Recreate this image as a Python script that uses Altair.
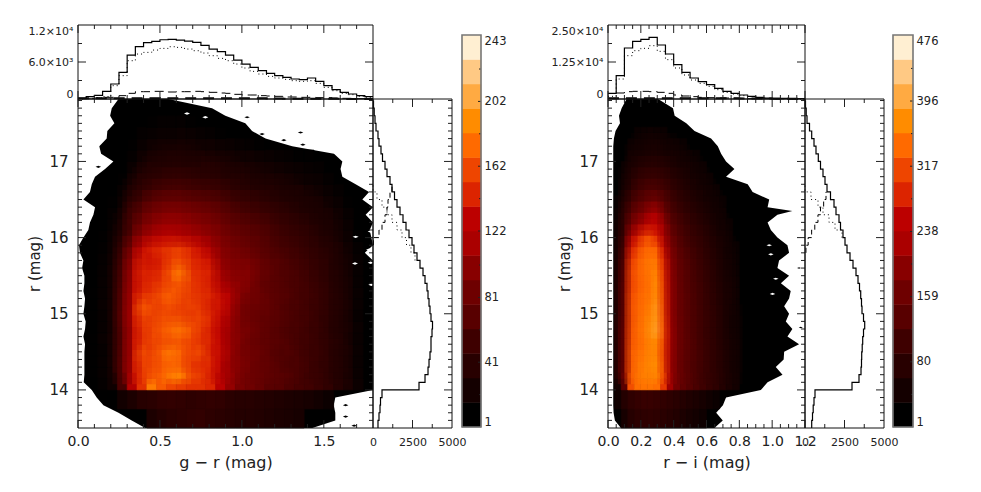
import altair as alt
import numpy as np
import pandas as pd

# bottom edges of the colour map rows (mag), last entry closes the top row
gr_rows = [13.5, 13.75, 14.0, 14.15, 14.3, 14.45, 14.6, 14.75, 14.9, 15.05, 15.2, 15.35, 15.5, 15.65,
           15.8, 15.95, 16.1, 16.25, 16.4, 16.55, 16.7, 16.85, 17.0, 17.15, 17.3, 17.45, 17.6]
gr_counts = [
    [0,0,0,0,0,0,0,30,36,40,42,44,46,42,40,38,36,36,34,32,30,28,26,0,0,0,0,0,0,0],
    [0,0,0,0,22,30,38,40,44,46,44,42,44,46,44,40,38,38,36,34,32,30,28,26,22,18,0,0,0,0],
    [5,8,12,20,60,122,150,182,168,160,155,150,150,145,128,105,90,85,78,70,68,62,58,55,50,44,36,28,18,8],
    [6,9,14,22,62,126,152,165,170,182,185,160,155,142,124,108,92,84,80,74,70,66,60,52,50,42,34,26,16,8],
    [6,9,14,24,64,128,158,158,165,172,166,152,148,148,130,105,95,88,78,76,66,60,62,54,48,44,34,25,15,8],
    [5,9,13,24,62,124,165,155,172,184,172,158,165,140,134,110,90,86,82,72,64,68,58,52,52,42,33,26,16,8],
    [6,9,15,24,60,126,148,158,160,162,165,158,148,145,130,106,96,82,76,72,70,62,56,55,48,44,35,24,15,8],
    [6,8,14,22,62,122,152,158,168,178,182,168,156,142,126,108,92,90,80,72,66,60,60,52,50,40,32,25,16,8],
    [5,9,14,24,66,130,160,155,162,160,158,152,160,148,132,112,90,82,76,74,70,64,58,56,48,42,33,24,14,7],
    [6,9,15,24,64,126,172,160,158,166,155,160,152,140,138,120,92,84,82,78,68,62,60,54,50,42,34,25,15,8],
    [6,9,14,23,62,124,148,152,165,172,162,155,150,148,134,125,98,88,84,74,70,66,58,56,50,44,33,24,15,8],
    [6,8,14,22,58,118,142,146,152,162,168,156,148,140,120,105,100,96,78,72,68,62,60,54,48,42,32,24,14,7],
    [5,8,13,22,56,116,146,142,148,168,186,152,146,144,112,100,96,98,82,76,66,64,58,52,46,40,32,22,14,7],
    [5,8,12,20,52,110,140,136,142,155,160,148,142,136,104,95,92,90,80,72,68,60,56,50,46,40,30,22,14,7],
    [4,7,11,18,46,100,132,145,150,155,158,145,135,118,100,92,86,80,72,66,60,56,52,46,42,36,28,20,12,6],
    [0,6,10,16,36,80,105,118,128,132,125,118,112,104,94,86,80,74,70,64,56,52,48,44,38,32,24,18,10,5],
    [0,5,9,14,30,64,88,100,108,110,108,104,98,94,88,78,72,68,64,60,52,48,44,40,34,30,22,16,8,0],
    [0,4,8,12,24,56,78,90,96,100,98,94,90,86,78,70,64,60,56,52,46,42,38,34,30,26,20,14,8,0],
    [0,0,6,10,18,44,64,74,82,84,84,80,76,72,68,60,54,50,48,44,40,36,32,30,26,20,16,10,0,0],
    [0,0,5,8,14,32,48,58,64,66,66,62,60,58,54,48,44,42,38,36,32,30,28,24,20,16,12,8,0,0],
    [0,0,4,7,10,22,36,44,48,50,50,48,46,44,42,38,36,32,30,28,26,24,20,18,16,12,8,0,0,0],
    [0,0,0,5,8,16,26,34,38,40,40,38,36,36,34,30,28,26,24,22,20,18,16,14,12,8,0,0,0,0],
    [0,0,0,0,6,12,20,26,30,32,32,30,28,26,24,22,20,20,18,16,14,12,10,10,8,0,0,0,0,0],
    [0,0,0,0,5,10,15,20,22,22,24,22,20,20,18,16,14,12,10,8,8,6,0,0,0,0,0,0,0,0],
    [0,0,0,0,0,8,12,14,16,16,18,16,14,12,10,8,6,0,0,0,0,0,0,0,0,0,0,0,0,0],
    [0,0,0,0,0,5,8,10,12,12,12,10,8,6,0,0,0,0,0,0,0,0,0,0,0,0,0,0,0,0],
]
ri_counts = [
    [0,18,50,72,80,82,85,82,78,72,66,58,50,44,36,26,0,0,0,0],
    [15,40,70,85,92,95,95,92,88,82,76,70,62,56,48,40,32,0,0,0],
    [25,45,140,320,345,350,350,345,300,215,170,145,130,118,105,92,82,68,55,44],
    [20,72,175,330,350,360,362,365,315,218,172,148,132,118,104,92,82,70,56,44],
    [20,70,170,325,352,358,370,372,310,215,170,146,130,118,106,94,80,68,54,42],
    [22,72,172,328,345,350,365,360,305,218,172,148,132,120,106,92,82,68,56,44],
    [22,70,168,320,340,348,368,372,312,220,172,150,132,118,104,92,80,66,54,42],
    [20,70,165,318,345,355,378,395,320,218,170,148,130,116,104,90,80,66,52,40],
    [20,68,160,315,338,352,365,380,310,215,168,148,128,116,104,92,78,66,52,40],
    [20,66,158,318,340,345,360,385,305,212,168,146,128,116,102,90,78,64,50,38],
    [18,66,160,312,335,345,352,372,300,210,166,144,128,114,102,88,76,62,50,38],
    [18,64,155,305,330,340,350,375,295,208,165,142,126,112,100,86,74,60,48,36],
    [18,62,150,310,335,345,355,362,290,205,162,140,124,110,98,84,72,58,46,34],
    [16,58,140,295,330,345,355,350,280,198,158,136,120,106,94,80,68,56,44,32],
    [15,52,125,270,310,335,340,335,262,188,150,128,112,100,88,76,64,52,40,30],
    [14,48,108,225,270,310,320,280,225,170,138,118,104,92,82,70,60,48,36,26],
    [12,42,95,170,205,235,260,255,215,150,125,108,96,84,74,64,52,42,32,22],
    [10,36,80,140,170,190,225,235,180,130,112,96,86,76,66,56,46,36,28,20],
    [8,30,65,112,135,150,170,175,140,115,98,86,76,66,58,48,40,30,22,16],
    [8,26,52,90,110,122,132,130,118,100,86,76,66,58,50,42,34,26,18,12],
    [6,22,42,72,92,100,105,102,96,84,74,66,58,50,42,34,26,20,14,0],
    [6,18,34,58,74,80,84,82,78,70,62,54,48,40,34,26,20,14,0,0],
    [0,14,26,44,56,62,64,64,60,54,48,42,36,30,24,18,12,0,0,0],
    [0,10,20,34,42,46,48,48,44,40,36,30,26,20,14,0,0,0,0,0],
    [0,8,14,24,30,34,36,34,32,28,24,20,16,0,0,0,0,0,0,0],
    [0,0,10,16,20,22,22,22,20,18,14,0,0,0,0,0,0,0,0,0],
]

# outline of the populated region, one colour range per magnitude
gr_edge_r = [13.5,13.6,13.7,13.8,13.9,14.0,14.1,14.2,14.3,14.4,14.5,14.6,14.7,14.8,14.9,15.0,15.1,15.2,15.3,15.4,15.5,15.6,
             15.7,15.8,15.9,16.0,16.1,16.2,16.3,16.4,16.5,16.6,16.7,16.8,16.9,17.0,17.1,17.2,17.3,17.4,17.5,17.6,17.7,17.82]
gr_edge_lo = [.41,.328,.247,.155,.114,.084,.035,.039,.039,.039,.039,.043,.033,.043,.047,.033,.039,.043,.033,.039,.039,.025,
              .033,.012,.006,.033,.063,.073,.094,.104,.033,.073,.084,.104,.165,.216,.141,.130,.175,.179,.222,.196,.206,.247]
gr_edge_hi = [1.43,1.57,1.57,1.56,1.57,1.8,1.8,1.8,1.8,1.8,1.8,1.8,1.8,1.8,1.8,1.8,1.8,1.8,1.8,1.8,1.8,1.8,
              1.8,1.75,1.8,1.79,1.78,1.8,1.755,1.8,1.735,1.776,1.694,1.613,1.602,1.613,1.562,1.307,1.144,1.062,1.021,.899,.818,.552]
ri_edge_r = [13.5,13.6,13.7,13.8,13.9,14.0,14.05,14.1,14.2,14.3,14.4,14.5,14.6,14.7,14.8,14.9,15.0,15.1,15.2,15.3,15.4,15.5,15.6,
             15.7,15.8,15.9,16.0,16.1,16.2,16.3,16.35,16.4,16.5,16.6,16.7,16.8,16.9,17.0,17.1,17.2,17.3,17.4,17.5,17.6,17.7,17.82]
ri_edge_lo = [.079,.042,.034,.032,.032,.032,.032,.032,.032,.032,.032,.032,.032,.032,.032,.032,.032,.032,.032,.032,.032,.032,.032,
              .032,.032,.032,.032,.032,.032,.032,.032,.032,.032,.032,.032,.032,.032,.032,.032,.032,.036,.046,.073,.067,.083,.113]
ri_edge_hi = [.648,.699,.659,.70,.719,.931,.952,.972,1.063,1.022,1.07,1.073,1.164,1.093,1.123,1.083,1.103,1.073,1.103,1.113,1.053,1.103,1.032,
              1.042,1.103,1.093,1.032,.992,.972,1.032,1.123,.972,.982,.881,.851,.719,.77,.719,.689,.669,.628,.527,.477,.406,.396,.305]

# white gaps and isolated black patches
gr_holes = [[.665,17.63],[.777,17.58],[1.776,16.3],[1.786,16.08],[1.694,16.01],[1.776,15.84],[1.786,15.67],[1.69,15.66],[1.79,15.38]]
gr_spots = [[1.032,17.58],[1.123,17.36],[1.358,17.38],[1.256,17.28],[1.372,17.22],[.124,16.93],[1.633,13.8],[1.633,13.65],[1.685,13.53]]
ri_holes = [[1.012,16.1],[.982,15.9],[.992,15.78],[1.022,15.46],[1.002,15.26]]
ri_spots = [[1.174,14.82],[1.164,15.6]]

# top histograms, 0.05 mag bins
gr_top = [108,378,594,1242,2430,4320,7128,8478,9126,9342,9612,9666,9558,9396,9180,8694,8100,7668,7128,6318,5670,5130,4590,4158,3780,3510,3240,3132,3402,2862,2160,1512,1080,810,540,378]
gr_top_dot = [0,100,200,400,2160,3780,6210,7290,7560,7938,8208,8478,8370,8100,7830,7452,7020,6588,6210,5670,5022,4482,4050,3672,3402,3186,2970,2862,2970,2538,1890,1350,918,702,432,270]
gr_top_dash = [54,108,162,270,270,540,918,1188,1188,1242,1242,1134,1188,1188,1242,1188,1080,972,918,756,648,648,540,486,432,324,324,270,270,216,216,162,108,108,54,54]
gr_top_base = [120,130,120,110,120,130,120,110,120,130,120,120,130,120,110,120,130,120,110,120,120,120,110,100,80,60,50,50,40,40,30,30,20,20,20,20]
ri_top = [1914,7882,17228,19480,20155,20831,18241,15201,11598,9008,7094,5855,4842,3603,2590,1914,1351,901,563,338,225,225,113,113]
ri_top_dot = [901,6756,14638,16327,17115,18016,16102,13287,10472,8107,6418,5292,4279,3153,2252,1689,1126,788,450,225,113,113,0,0]
ri_top_dash = [113,2027,2477,2590,2590,2477,2252,1914,1351,1013,788,563,450,338,338,225,225,113,113,113,56,56,0,0]
ri_top_base = [250,260,250,240,250,260,250,240,250,240,230,240,230,220,230,220,210,200,180,150,120,100,60,40]

# side histograms, 0.1 mag bins from r = 13.5
gr_side = [316,380,443,475,570,2912,3292,3482,3545,3608,3671,3671,3735,3766,3671,3608,3545,3482,3418,3292,3165,2975,2785,2595,2469,2279,2089,1899,1709,1519,1361,1203,1076,886,760,601,506,380,316,190,127,76,32]
gr_side_dot = [2659,2405,2121,1836,1519,1203,886,570,253,0]       # from r = 15.7
gr_side_dash = [32,380,570,760,886,950,1076,1203]                 # from r = 15.9
ri_side = [424,475,519,570,633,2975,3418,3545,3576,3589,3621,3652,3703,3779,3703,3608,3576,3526,3450,3355,3228,3038,2849,2659,2532,2405,2247,2152,1962,1836,1614,1393,1266,1139,981,842,696,570,424,285,127,76,32]
ri_side_dot = [2342,1899,1519,1139,823,380,0]                     # from r = 16.0
ri_side_dash = [60,200,420,620,820,980,1180,1330]                 # from r = 15.8

gr_major = [0, .5, 1, 1.5]
gr_minor = [.1,.2,.3,.4,.6,.7,.8,.9,1.1,1.2,1.3,1.4,1.6,1.7]
ri_major = [0, .2, .4, .6, .8, 1, 1.2]
ri_minor = [.05,.1,.15,.25,.3,.35,.45,.5,.55,.65,.7,.75,.85,.9,.95,1.05,1.1,1.15]
r_major = [14, 15, 16, 17]
r_minor = [13.6,13.7,13.8,13.9,14.1,14.2,14.3,14.4,14.5,14.6,14.7,14.8,14.9,15.1,15.2,15.3,15.4,15.5,15.6,15.7,15.8,15.9,
           16.1,16.2,16.3,16.4,16.5,16.6,16.7,16.8,16.9,17.1,17.2,17.3,17.4,17.5,17.6,17.7,17.8]
side_major = [0, 2500, 5000]
side_minor = [1250, 3750]
gr_top_major = [0, 6000, 12000]
gr_top_minor = [3000, 9000]
ri_top_major = [0, 12500, 25000]
ri_top_minor = [6250, 18750]
gr_bar_ticks = [1, 41, 81, 122, 162, 202, 243]
ri_bar_ticks = [1, 80, 159, 238, 317, 396, 476]

bar_colors = ['#000000','#140000','#280000','#3e0000','#580000','#6e0000','#880000','#aa0000',
              '#bc0000','#dc2400','#ee4500','#ff6a00','#ff8c00','#ffaa42','#ffc984','#ffefd2']

W, H = 965, 476
FONT = 'DejaVu Sans'
INK = '#222222'
R_DOM = [13.5, 17.82]
Y_MAIN = [420, 91]
Y_TOP = [91, 17]
Y_BAR = [419, 27]

L_main = dict(xd=[0, 1.8], xr=[70, 365], yd=R_DOM, yr=Y_MAIN)
L_top = dict(xd=[0, 1.8], xr=[70, 365], yd=[0, 12000], yr=Y_TOP)
L_side = dict(xd=[0, 5000], xr=[365, 444], yd=R_DOM, yr=Y_MAIN)
L_bar = dict(xd=[0, 1], xr=[454, 473], yd=[1, 243], yr=Y_BAR)
R_main = dict(xd=[0, 1.2], xr=[600, 797], yd=R_DOM, yr=Y_MAIN)
R_top = dict(xd=[0, 1.2], xr=[600, 797], yd=[0, 25000], yr=Y_TOP)
R_side = dict(xd=[0, 5000], xr=[797, 876], yd=R_DOM, yr=Y_MAIN)
R_bar = dict(xd=[0, 1], xr=[885, 905], yd=[1, 476], yr=Y_BAR)


def scale_for(p, axis):
    return alt.Scale(domain=p[axis + 'd'], range=p[axis + 'r'], nice=False, zero=False)


def X(p, field='x', axis=None):
    return alt.X(f'{field}:Q', scale=scale_for(p, 'x'), axis=axis)


def Y(p, field='y', axis=None):
    return alt.Y(f'{field}:Q', scale=scale_for(p, 'y'), axis=axis)


def stairs_top(p, values, start=0, width=.05, **mark):
    rows = []
    for k, v in enumerate(values):
        rows += [dict(x=start + k * width, y=v), dict(x=start + (k + 1) * width, y=v)]
    df = pd.DataFrame(rows).reset_index()
    return alt.Chart(df).mark_line(color='black', **mark).encode(x=X(p), y=Y(p), order='index:Q')


def stairs_side(p, values, start=13.5, width=.1, **mark):
    rows = []
    for k, v in enumerate(values):
        rows += [dict(x=v, y=start + k * width), dict(x=v, y=start + (k + 1) * width)]
    df = pd.DataFrame(rows).reset_index()
    return alt.Chart(df).mark_line(color='black', **mark).encode(x=X(p), y=Y(p), order='index:Q')


def color_channels(vmax):
    mids = list((np.linspace(1, vmax, 17)[:-1] + np.linspace(1, vmax, 17)[1:]) / 2)
    sc = alt.Scale(domain=mids, range=bar_colors, interpolate='rgb')
    return alt.Color('v:Q', scale=sc, legend=None), alt.Stroke('v:Q', scale=sc, legend=None)


def heat(p, counts, rows, col_w, vmax, floor):
    cells = []
    for i, row in enumerate(counts):
        for k, v in enumerate(row):
            if v >= floor:
                cells.append(dict(x=k * col_w, x2=(k + 1) * col_w, y=rows[i], y2=rows[i + 1], v=v))
    fill, line = color_channels(vmax)
    return alt.Chart(pd.DataFrame(cells)).mark_rect(strokeWidth=.6).encode(
        x=X(p), x2='x2:Q', y=Y(p), y2='y2:Q', color=fill, stroke=line)


def heat_soft(p, counts, rows, col_w, vmax, floor, xmin):
    # enlarged see-through copies of the inner cells to soften the block edges
    cells = []
    for i, row in enumerate(counts):
        for k, v in enumerate(row):
            if v >= floor and i >= 2:
                h = (rows[i + 1] - rows[i]) / 2
                cells.append(dict(x=max((k - .5) * col_w, xmin), x2=(k + 1.5) * col_w, y=rows[i] - h, y2=rows[i + 1] + h, v=v))
    df = pd.DataFrame(cells)
    df = df[df.y >= 14]
    fill, _ = color_channels(vmax)
    return alt.Chart(df).mark_rect(opacity=.3).encode(x=X(p), x2='x2:Q', y=Y(p), y2='y2:Q', color=fill)


def outline(p, r, lo, hi):
    df = pd.DataFrame(dict(y=r, x=lo, x2=hi))
    return alt.Chart(df).mark_area(orient='horizontal', color='black').encode(
        y=Y(p), x=X(p), x2='x2:Q')


def patches(p, pts, color, size):
    df = pd.DataFrame(pts, columns=['x', 'y'])
    return alt.Chart(df).mark_point(filled=True, opacity=1, color=color, size=size,
                                    shape='M-1,0L0,-0.4L1,0L0,0.4Z').encode(x=X(p), y=Y(p))


def x_ticks(p, major, minor, major_len=8, minor_len=4):
    # ticks along the top and bottom edge, pointing into the panel
    per_px = abs(p['yd'][1] - p['yd'][0]) / abs(p['yr'][1] - p['yr'][0])
    rows = []
    for vals, n in ((major, major_len), (minor, minor_len)):
        for v in vals:
            rows.append(dict(x=v, y=p['yd'][0], y2=p['yd'][0] + n * per_px))
            rows.append(dict(x=v, y=p['yd'][1], y2=p['yd'][1] - n * per_px))
    return alt.Chart(pd.DataFrame(rows)).mark_rule(color=INK, strokeWidth=1).encode(x=X(p), y=Y(p), y2='y2:Q')


def y_ticks(p, major, minor, major_len=8, minor_len=4, left=True):
    per_px = abs(p['xd'][1] - p['xd'][0]) / abs(p['xr'][1] - p['xr'][0])
    rows = []
    for vals, n in ((major, major_len), (minor, minor_len)):
        for v in vals:
            if left:
                rows.append(dict(y=v, x=p['xd'][0], x2=p['xd'][0] + n * per_px))
            rows.append(dict(y=v, x=p['xd'][1], x2=p['xd'][1] - n * per_px))
    return alt.Chart(pd.DataFrame(rows)).mark_rule(color=INK, strokeWidth=1).encode(y=Y(p), x=X(p), x2='x2:Q')


def frame(p, xaxis=None, yaxis=None, color='#111111', width=1):
    df = pd.DataFrame([dict(x=p['xd'][0], x2=p['xd'][1], y=p['yd'][0], y2=p['yd'][1])])
    return alt.Chart(df).mark_rect(fillOpacity=0, stroke=color, strokeWidth=width).encode(
        x=X(p, axis=xaxis), x2='x2:Q', y=Y(p, axis=yaxis), y2='y2:Q')


def axis_common(size):
    return dict(ticks=False, domain=False, grid=False, labelFont=FONT, labelFontSize=size, labelColor=INK,
                labelOverlap=False, titleFont=FONT, titleFontWeight='normal', titleColor=INK)


def bottom_axis(vals, fmt, title=None, size=14, pad=6):
    args = dict(orient='bottom', offset=Y_MAIN[0] - H, values=vals, format=fmt, labelPadding=pad, labelFlush=False,
                **axis_common(size))
    if title:
        args.update(title=title, titleFontSize=16, titlePadding=6)
    else:
        args.update(title=None)
    return alt.Axis(**args)


def r_axis(xpos):
    return alt.Axis(orient='left', offset=-xpos, values=r_major, format='d', labelPadding=10, title='r (mag)',
                    titleFontSize=15, titlePadding=6, **axis_common(15))


def top_axis(xpos, vals, expr):
    return alt.Axis(orient='left', offset=-xpos, values=vals, labelExpr=expr, labelFlush=True, labelPadding=5,
                    title=None, **axis_common(11))


def bar_panel(p, vmax, tick_vals):
    edges = np.linspace(1, vmax, 17)
    df = pd.DataFrame(dict(x=0, x2=1, y=edges[:-1], y2=edges[1:], v=(edges[:-1] + edges[1:]) / 2))
    fill, line = color_channels(vmax)
    bands = alt.Chart(df).mark_rect(strokeWidth=.5).encode(
        x=X(p), x2='x2:Q', y=Y(p), y2='y2:Q', color=fill, stroke=line)
    axis = alt.Axis(orient='right', offset=p['xr'][1] + 0 - W, values=tick_vals, format='d', labelFlush=True,
                    labelPadding=3, title=None, **axis_common(11.5))
    step = (tick_vals[1] - tick_vals[0]) / 2
    minor = [v + step for v in tick_vals[:-1]]
    return [bands, y_ticks(p, tick_vals[1:-1], minor, 3, 2, left=False),
            frame(p, yaxis=axis, color='#777777', width=1.6)]


layers = [
    outline(L_main, gr_edge_r, gr_edge_lo, gr_edge_hi),
    heat(L_main, gr_counts, gr_rows, .06, 243, 9),
    heat_soft(L_main, gr_counts, gr_rows, .06, 243, 30, .05),
    patches(L_main, gr_holes, 'white', 36),
    patches(L_main, gr_spots, 'black', 30),
    stairs_top(L_top, gr_top, strokeWidth=1.2),
    stairs_top(L_top, gr_top_dot, strokeWidth=1, strokeDash=[1, 3]),
    stairs_top(L_top, gr_top_dash, strokeWidth=1, strokeDash=[9, 5]),
    stairs_top(L_top, gr_top_base, strokeWidth=2, strokeDash=[11, 7]),
    stairs_side(L_side, gr_side, strokeWidth=1.2),
    stairs_side(L_side, gr_side_dot, start=15.7, strokeWidth=1, strokeDash=[1, 3]),
    stairs_side(L_side, gr_side_dash, start=15.9, strokeWidth=1, strokeDash=[5, 3]),
    x_ticks(L_main, gr_major, gr_minor),
    y_ticks(L_main, r_major, r_minor),
    x_ticks(L_top, gr_major, gr_minor),
    y_ticks(L_top, gr_top_major[1:-1], gr_top_minor),
    x_ticks(L_side, side_major[1:-1], side_minor),
    y_ticks(L_side, r_major, r_minor, left=False),
    frame(L_main, xaxis=bottom_axis(gr_major, '.1f', 'g \u2212 r (mag)'), yaxis=r_axis(70)),
    frame(L_top, yaxis=top_axis(70, gr_top_major,
                                "datum.value == 0 ? '0' : datum.value == 6000 ? '6.0\u00d710\u00b3' : '1.2\u00d710\u2074'")),
    frame(L_side, xaxis=bottom_axis(side_major, 'd', size=11, pad=8)),
    *bar_panel(L_bar, 243, gr_bar_ticks),

    outline(R_main, ri_edge_r, ri_edge_lo, ri_edge_hi),
    heat(R_main, ri_counts, gr_rows, .04, 476, 30),
    heat_soft(R_main, ri_counts, gr_rows, .04, 476, 40, .036),
    patches(R_main, ri_holes, 'white', 30),
    patches(R_main, ri_spots, 'black', 16),
    stairs_top(R_top, ri_top, strokeWidth=1.2),
    stairs_top(R_top, ri_top_dot, strokeWidth=1, strokeDash=[1, 3]),
    stairs_top(R_top, ri_top_dash, strokeWidth=1, strokeDash=[9, 5]),
    stairs_top(R_top, ri_top_base, strokeWidth=2, strokeDash=[11, 7]),
    stairs_side(R_side, ri_side, strokeWidth=1.2),
    stairs_side(R_side, ri_side_dot, start=16.0, strokeWidth=1, strokeDash=[1, 3]),
    stairs_side(R_side, ri_side_dash, start=15.8, strokeWidth=1, strokeDash=[5, 3]),
    x_ticks(R_main, ri_major, ri_minor),
    y_ticks(R_main, r_major, r_minor),
    x_ticks(R_top, ri_major, ri_minor),
    y_ticks(R_top, ri_top_major[1:-1], ri_top_minor),
    x_ticks(R_side, side_major[1:-1], side_minor),
    y_ticks(R_side, r_major, r_minor, left=False),
    frame(R_main, xaxis=bottom_axis(ri_major, '.1f', 'r \u2212 i (mag)'), yaxis=r_axis(600)),
    frame(R_top, yaxis=top_axis(600, ri_top_major,
                                "datum.value == 0 ? '0' : datum.value == 12500 ? '1.25\u00d710\u2074' : '2.50\u00d710\u2074'")),
    frame(R_side, xaxis=bottom_axis(side_major, 'd', size=11, pad=8)),
    *bar_panel(R_bar, 476, ri_bar_ticks),
]

chart = alt.layer(*layers).resolve_scale(
    x='independent', y='independent', color='independent', stroke='independent'
).properties(width=W, height=H, padding=0, autosize='none').configure_view(stroke=None)

chart.save("out.html", embed_options={"renderer": "svg", "actions": False})
